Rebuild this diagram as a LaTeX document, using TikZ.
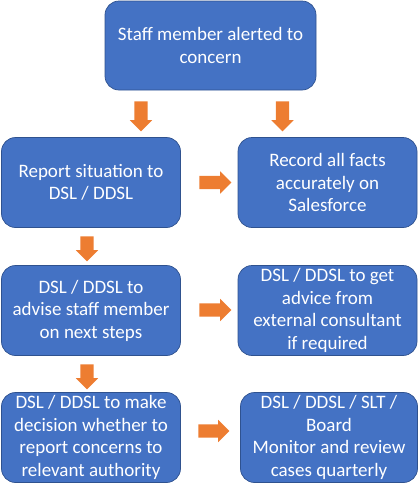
\documentclass[tikz,border=0pt]{standalone}
\usepackage{fontspec}
\setmainfont{Carlito}
\usetikzlibrary{shapes.arrows}
\definecolor{boxblue}{HTML}{4472C4}
\definecolor{boxedge}{HTML}{2F528F}
\definecolor{arroworange}{HTML}{ED7D31}
\tikzset{
  box/.style={rectangle, rounded corners=14pt, fill=boxblue, draw=boxedge, line width=0.7pt,
    text=white, align=center, inner sep=2pt, font=\fontsize{19}{22.5}\selectfont},
  blockarrow/.style={single arrow, fill=arroworange, draw=none, inner sep=6.5pt,
    single arrow head extend=4.5pt, single arrow head indent=0pt, anchor=center},
  downarrow/.style={blockarrow, shape border rotate=270},
  rightarrow/.style={blockarrow, shape border rotate=0},
}
\begin{document}
\begin{tikzpicture}[x=1pt, y=-1pt]
\useasboundingbox (0,0) rectangle (419,483);
\node[box, minimum width=211pt, minimum height=89pt] (top) at (210.5,45.5) {Staff member alerted to\\concern};
\node[box, minimum width=179pt, minimum height=90pt] (report) at (91,182.5) {Report situation to\\DSL / DDSL};
\node[box, minimum width=179pt, minimum height=90pt] (record) at (327.5,182.5) {Record all facts\\accurately on\\Salesforce};
\node[box, minimum width=179pt, minimum height=90pt] (advise) at (91,310.5) {DSL / DDSL to\\advise staff member\\on next steps};
\node[box, minimum width=179pt, minimum height=90pt] (external) at (327.5,310.5) {DSL / DDSL to get\\advice from\\external consultant\\if required};
\node[box, minimum width=179pt, minimum height=90pt] (decide) at (91,437.5) {DSL / DDSL to make\\decision whether to\\report concerns to\\relevant authority};
\node[box, minimum width=177pt, minimum height=90pt] (monitor) at (329,437.5) {DSL / DDSL / SLT /\\Board\\Monitor and review\\cases quarterly};
\node[downarrow, minimum height=30pt] (a1) at (141,113) {};
\node[downarrow, minimum height=30pt] (a2) at (282.5,113) {};
\node[rightarrow, minimum height=32pt] (a3) at (212,182.5) {};
\node[downarrow, minimum height=25pt] (a4) at (87,245.5) {};
\node[rightarrow, minimum height=32pt] (a5) at (212,310) {};
\node[downarrow, minimum height=25pt] (a6) at (87,373.5) {};
\node[rightarrow, minimum height=31pt] (a7) at (210.5,431) {};
\end{tikzpicture}
\end{document}
